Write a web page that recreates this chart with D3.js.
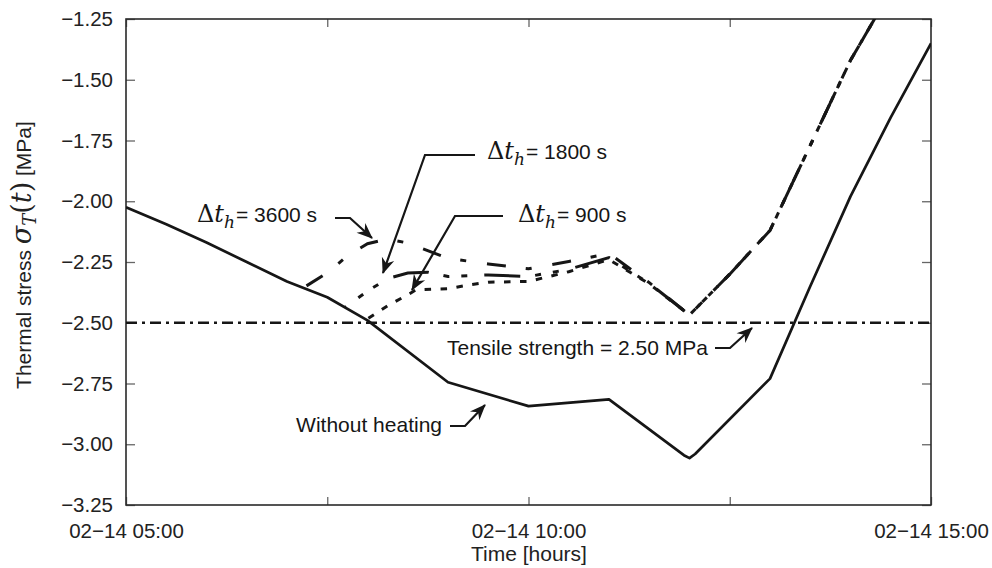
<!DOCTYPE html>
<html>
<head>
<meta charset="utf-8">
<script src="https://cdn.jsdelivr.net/npm/d3@7"></script>
<style>
  body { margin: 0; background: #fff; }
</style>
</head>
<body>
<svg id="chart" width="992" height="568"></svg>
<script>
// Thermal stress over time, with and without surface heating.
// Values (hours since 00:00, stress in MPa).
const noHeatHours = [5, 5.5, 6, 6.5, 7, 7.5, 8, 9, 10, 11, 11.93, 12, 12.07, 13, 13.5, 14, 14.5, 15];
const noHeatStress = [-2.025, -2.095, -2.17, -2.25, -2.33, -2.395, -2.49, -2.745, -2.843, -2.815, -3.045, -3.057, -3.04, -2.73, -2.35, -1.98, -1.655, -1.35];

const heat3600Hours = [7.2, 7.5, 7.75, 8.0, 8.25, 8.5, 9.0, 9.5, 10.0, 10.5, 11.0, 11.5, 12, 12.5, 13, 13.5, 14, 15];
const heat3600Stress = [-2.357, -2.295, -2.225, -2.175, -2.155, -2.172, -2.235, -2.258, -2.278, -2.248, -2.215, -2.335, -2.468, -2.3, -2.12, -1.77, -1.42, -0.85];

const heat1800Hours = [7.72, 8.0, 8.25, 8.5, 8.75, 9.0, 9.5, 10.0, 10.5, 11.0, 11.5, 12, 12.5, 13, 13.5, 14, 15];
const heat1800Stress = [-2.437, -2.37, -2.318, -2.295, -2.292, -2.31, -2.303, -2.31, -2.28, -2.232, -2.338, -2.468, -2.3, -2.12, -1.77, -1.42, -0.85];

const heat900Hours = [7.98, 8.25, 8.5, 8.6, 9.0, 9.25, 9.5, 10.0, 10.5, 11.0, 11.5, 12, 12.5, 13, 13.5, 14, 15];
const heat900Stress = [-2.488, -2.43, -2.385, -2.365, -2.36, -2.345, -2.333, -2.33, -2.29, -2.24, -2.34, -2.468, -2.3, -2.12, -1.77, -1.42, -0.85];

const tensileHours = [5, 15];
const tensileStress = [-2.5, -2.5];

const xTickHours = [5, 7.5, 10, 12.5, 15];
const yTickValues = [-3.25, -3.0, -2.75, -2.5, -2.25, -2.0, -1.75, -1.5, -1.25];

const SANS = "'Liberation Sans', Arial, Helvetica, sans-serif";
const SERIF = "'DejaVu Serif', 'Liberation Serif', serif";
const INK = "#161616";

const svg = d3.select("#chart");
const plotL = 126, plotR = 931, plotT = 19, plotB = 505;

const x = d3.scaleLinear().domain([5, 15]).range([plotL, plotR]);
const y = d3.scaleLinear().domain([-3.25, -1.25]).range([plotB, plotT]);

const zip = (hs, vs) => hs.map((h, i) => ({ h, v: vs[i] }));

const defs = svg.append("defs");
// clip for curves leaving the top
defs.append("clipPath").attr("id", "plot-clip")
    .append("rect").attr("x", plotL).attr("y", plotT)
    .attr("width", plotR - plotL).attr("height", plotB - plotT);

// arrowhead marker
defs.append("marker")
    .attr("id", "arrow")
    .attr("markerUnits", "userSpaceOnUse")
    .attr("viewBox", "-16 -8 18 16")
    .attr("refX", 0).attr("refY", 0)
    .attr("markerWidth", 18).attr("markerHeight", 16)
    .attr("orient", "auto")
    .append("path")
    .attr("d", "M1,0 L-15,-6.5 L-10,0 L-15,6.5 Z")
    .attr("fill", INK);

// axes (ticks point inward)
const xFmt = h => h % 5 === 0 ? `02\u221214 ${String(h).padStart(2, "0")}:00` : "";
const gx = svg.append("g")
    .attr("transform", `translate(0,${plotB})`)
    .call(d3.axisBottom(x).tickValues(xTickHours).tickFormat(xFmt)
        .tickSizeInner(-8).tickSizeOuter(0).tickPadding(18));
const gxTop = svg.append("g")
    .attr("transform", `translate(0,${plotT})`)
    .call(d3.axisTop(x).tickValues(xTickHours).tickFormat("")
        .tickSizeInner(-8).tickSizeOuter(0));
const gy = svg.append("g")
    .attr("transform", `translate(${plotL},0)`)
    .call(d3.axisLeft(y).tickValues(yTickValues).tickFormat(d3.format(".2f"))
        .tickSizeInner(-9).tickSizeOuter(0).tickPadding(13));
const gyRight = svg.append("g")
    .attr("transform", `translate(${plotR},0)`)
    .call(d3.axisRight(y).tickValues(yTickValues).tickFormat("")
        .tickSizeInner(-9).tickSizeOuter(0));

[gx, gxTop, gy, gyRight].forEach(g => {
    g.select(".domain").remove();
    g.selectAll(".tick line").attr("stroke", "#666").attr("stroke-width", 1.3);
    g.selectAll(".tick text")
        .attr("fill", "#222")
        .attr("font-family", SANS)
        .attr("font-size", "20.5px");
});

// frame
svg.append("rect")
    .attr("x", plotL).attr("y", plotT)
    .attr("width", plotR - plotL).attr("height", plotB - plotT)
    .attr("fill", "none").attr("stroke", "#2a2a2a").attr("stroke-width", 1.6);

const line = d3.line().x(d => x(d.h)).y(d => y(d.v));
const plot = svg.append("g").attr("clip-path", "url(#plot-clip)");

function alignDash(path, period, targetX) {
    const node = path.node();
    const total = node.getTotalLength();
    let L0 = 0;
    for (let s = 0; s <= total; s += 0.5) {
        if (node.getPointAtLength(s).x >= targetX) { L0 = s; break; }
    }
    path.attr("stroke-dashoffset", (period - (L0 % period)) % period);
}

// tensile strength
plot.append("path")
    .datum(zip(tensileHours, tensileStress))
    .attr("d", line)
    .attr("fill", "none").attr("stroke", INK).attr("stroke-width", 2.6)
    .attr("stroke-dasharray", "11,5,3,5");

// without heating
plot.append("path")
    .datum(zip(noHeatHours, noHeatStress))
    .attr("d", line)
    .attr("fill", "none").attr("stroke", INK).attr("stroke-width", 2.7)
    .attr("stroke-linejoin", "round");

// 900 s: short dashes
const p900 = plot.append("path")
    .datum(zip(heat900Hours, heat900Stress))
    .attr("d", line)
    .attr("fill", "none").attr("stroke", INK).attr("stroke-width", 3)
    .attr("stroke-dasharray", "6.5,9.5");
alignDash(p900, 16, 368);

// 1800 s: long dash with two short ones
const p1800 = plot.append("path")
    .datum(zip(heat1800Hours, heat1800Stress))
    .attr("d", line)
    .attr("fill", "none").attr("stroke", INK).attr("stroke-width", 3)
    .attr("stroke-dasharray", "36,15,6,12,6,17");
alignDash(p1800, 92, 393);

// 3600 s: long dash-dot
const p3600 = plot.append("path")
    .datum(zip(heat3600Hours, heat3600Stress))
    .attr("d", line)
    .attr("fill", "none").attr("stroke", INK).attr("stroke-width", 3)
    .attr("stroke-dasharray", "19,20,6,21");
alignDash(p3600, 66, 423);

// annotation text helpers
function deltaLabel(px, py, txt) {
    const t = svg.append("text").attr("x", px).attr("y", py).attr("fill", INK);
    t.append("tspan").attr("font-family", SERIF).attr("font-size", "24px").text("\u0394");
    t.append("tspan").attr("font-family", SERIF).attr("font-style", "italic").attr("font-size", "24px").text("t");
    t.append("tspan").attr("font-family", SERIF).attr("font-style", "italic").attr("font-size", "17px").attr("dy", 6).text("h");
    t.append("tspan").attr("font-family", SANS).attr("font-size", "21px").attr("dy", -6).attr("dx", 1).text(txt);
}
function arrow(points) {
    svg.append("path")
        .attr("d", d3.line()(points))
        .attr("fill", "none").attr("stroke", INK).attr("stroke-width", 2.2)
        .attr("marker-end", "url(#arrow)");
}

deltaLabel(197, 222, "= 3600 s");
arrow([[335, 218], [350, 218], [372, 238]]);

deltaLabel(487, 159, "= 1800 s");
arrow([[475, 155], [425, 155], [383, 273]]);

deltaLabel(518, 222, "= 900 s");
arrow([[503, 216], [455, 216], [412, 290]]);

svg.append("text").attr("x", 442).attr("y", 432).attr("text-anchor", "end")
    .attr("font-family", SANS).attr("font-size", "21px").attr("fill", INK)
    .text("Without heating");
arrow([[450, 426], [465, 426], [485, 405]]);

svg.append("text").attr("x", 447).attr("y", 355)
    .attr("font-family", SANS).attr("font-size", "21px").attr("fill", INK)
    .text("Tensile strength = 2.50 MPa");
arrow([[715, 348], [730, 348], [752, 328]]);

// axis titles
svg.append("text").attr("x", 529).attr("y", 561).attr("text-anchor", "middle")
    .attr("font-family", SANS).attr("font-size", "21px").attr("fill", "#222")
    .text("Time [hours]");

const yl = svg.append("text")
    .attr("transform", "translate(31,255) rotate(-90)")
    .attr("text-anchor", "middle").attr("fill", "#222");
yl.append("tspan").attr("font-family", SANS).attr("font-size", "21px").text("Thermal stress ");
yl.append("tspan").attr("font-family", SERIF).attr("font-style", "italic").attr("font-size", "27px").text("\u03c3");
yl.append("tspan").attr("font-family", SERIF).attr("font-style", "italic").attr("font-size", "18px").attr("dy", 5).text("T");
yl.append("tspan").attr("font-family", SERIF).attr("font-size", "27px").attr("dy", -5).text("(");
yl.append("tspan").attr("font-family", SERIF).attr("font-style", "italic").attr("font-size", "27px").text("t");
yl.append("tspan").attr("font-family", SERIF).attr("font-size", "27px").text(")");
yl.append("tspan").attr("font-family", SANS).attr("font-size", "21px").text(" [MPa]");
</script>
</body>
</html>
